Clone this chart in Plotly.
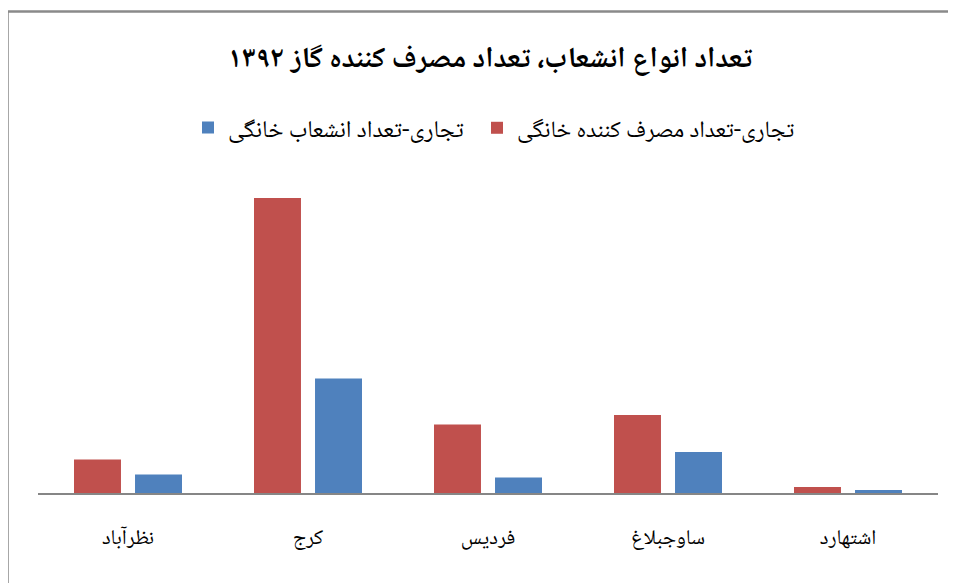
import plotly.graph_objects as go

categories = ["نظرآباد", "کرج", "فردیس", "ساوجبلاغ", "اشتهارد"]
consumers = [33.5, 295, 68.5, 78, 6]      # تجاری-تعداد مصرف کننده خانگی
branches = [18.5, 114.5, 15.5, 41, 3]     # تجاری-تعداد انشعاب خانگی
series_names = ["تجاری-تعداد مصرف کننده خانگی", "تجاری-تعداد انشعاب خانگی"]
title_text = "تعداد انواع انشعاب، تعداد مصرف کننده گاز ۱۳۹۲"

FONT = "Noto Naskh Arabic, Noto Sans Arabic, DejaVu Sans, sans-serif"

fig = go.Figure()
fig.add_trace(go.Bar(x=categories, y=consumers, name=series_names[0], legend="legend2",
                     marker=dict(color="#C0504D", line=dict(width=0))))
fig.add_trace(go.Bar(x=categories, y=branches, name=series_names[1], legend="legend",
                     marker=dict(color="#4F81BD", line=dict(width=0))))

OFF = 8  # default page body margin
W, H = 956 - OFF, 583 - OFF
L, R, T, B = 38 - OFF, 18, 174 - OFF, 90
ph = H - T - B
pw = W - L - R

def px_x(p):
    return (p - OFF - L) / pw

def px_y(p):
    return (H - B - (p - OFF)) / ph

leg_common = dict(orientation="h", yanchor="middle", y=px_y(128), xanchor="left",
                  bgcolor="rgba(0,0,0,0)", itemwidth=30)

fig.update_layout(
    width=W, height=H,
    margin=dict(l=L, r=R, t=T, b=B, autoexpand=False),
    paper_bgcolor="white", plot_bgcolor="white",
    barmode="group", bargap=0.322, bargroupgap=0.23,
    font=dict(family=FONT, color="black", size=16),
    title=dict(text="<b>" + title_text + "</b>", x=(490 - OFF) / W, xanchor="center",
               y=1 - (57 - OFF) / H, yanchor="middle", font=dict(size=29, family=FONT)),
    showlegend=True,
    legend=dict(x=px_x(188), font=dict(size=24, family=FONT), **leg_common),
    legend2=dict(x=px_x(477), font=dict(size=23.5, family=FONT), **leg_common),
    xaxis=dict(showline=True, linecolor="#868686", linewidth=2, showgrid=False,
               ticks="", zeroline=False, ticklabelstandoff=24,
               tickfont=dict(size=21, family=FONT)),
    yaxis=dict(visible=False, range=[0, ph], showgrid=False, zeroline=False),
)

fig.add_shape(type="rect", xref="paper", yref="paper",
              x0=px_x(7.5), x1=px_x(1100), y0=px_y(700), y1=px_y(11.5),
              line=dict(color="#8a8a8a", width=2.5), fillcolor="rgba(0,0,0,0)", layer="above")

fig.write_html("out.html")
